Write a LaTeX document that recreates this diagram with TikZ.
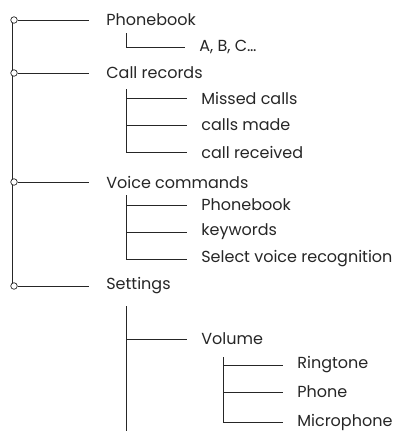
\documentclass[tikz,border=0pt]{standalone}
\usepackage{fontspec}
\setmainfont{Poppins}
\usetikzlibrary{positioning}

\begin{document}
\begin{tikzpicture}[x=1pt, y=-1pt, line width=0.7pt, draw=black!85]

		\useasboundingbox (0,0) rectangle (400,431);

		\tikzstyle{item}=[anchor=west, inner sep=0pt, text=black!85, font=\fontsize{16}{18}\selectfont]
		\tikzstyle{knob}=[circle, draw, fill=white, inner sep=0pt, minimum size=6.5pt]

		% main menu
		\node[item] (phonebook) at (106, 20)  {Phonebook};
		\node[item] (records)   at (106, 73)  {Call records};
		\node[item] (voice)     at (106, 182) {Voice commands};
		\node[item] (settings)  at (106, 286) {Settings};

		% sub menus
		\node[item] (abc)      at (199, 47)  {A, B, C\dots};
		\node[item] (missed)   at (201, 98)  {Missed calls};
		\node[item] (made)     at (201, 125) {calls made};
		\node[item] (received) at (201, 152) {call received};
		\node[item] (vbook)    at (201, 205) {Phonebook};
		\node[item] (keywords) at (201, 232) {keywords};
		\node[item] (select)   at (201, 259) {Select voice recognition};
		\node[item] (volume)   at (201, 339) {Volume};
		\node[item] (ringtone) at (297, 365) {Ringtone};
		\node[item] (phone)    at (297, 392) {Phone};
		\node[item] (micro)    at (297, 422) {Microphone};

		% tops of the branches
		\coordinate (bpb)  at (126, 33);
		\coordinate (brec) at (126, 89);
		\coordinate (bvc)  at (126, 195);
		\coordinate (bset) at (126, 306);
		\coordinate (bend) at (126, 431);
		\coordinate (bvol) at (223, 357);

		% spine
		\draw (12, 20) -- (12, 286);
		\node[knob] (k1) at (14, 20)  {};
		\node[knob] (k2) at (14, 73)  {};
		\node[knob] (k3) at (14, 182) {};
		\node[knob] (k4) at (14, 286) {};

		\draw (k1) -- ([xshift=-17pt]phonebook.west);
		\draw (k2) -- ([xshift=-17pt]records.west);
		\draw (k3) -- ([xshift=-17pt]voice.west);
		\draw (k4) -- ([xshift=-17pt]settings.west);

		% Phonebook
		\draw (bpb) |- ([xshift=-14pt]abc.west);

		% Call records
		\draw (brec) |- ([xshift=-14pt]received.west);
		\draw (brec |- missed) -- ([xshift=-14pt]missed.west);
		\draw (brec |- made) -- ([xshift=-14pt]made.west);

		% Voice commands
		\draw (bvc) |- ([xshift=-14pt]select.west);
		\draw (bvc |- vbook) -- ([xshift=-14pt]vbook.west);
		\draw (bvc |- keywords) -- ([xshift=-14pt]keywords.west);

		% Settings
		\draw (bset) -- (bend);
		\draw (bset |- volume) -- ([xshift=-14pt]volume.west);

		% Volume
		\draw (bvol) |- ([xshift=-14pt]micro.west);
		\draw (bvol |- ringtone) -- ([xshift=-14pt]ringtone.west);
		\draw (bvol |- phone) -- ([xshift=-14pt]phone.west);

\end{tikzpicture}
\end{document}
